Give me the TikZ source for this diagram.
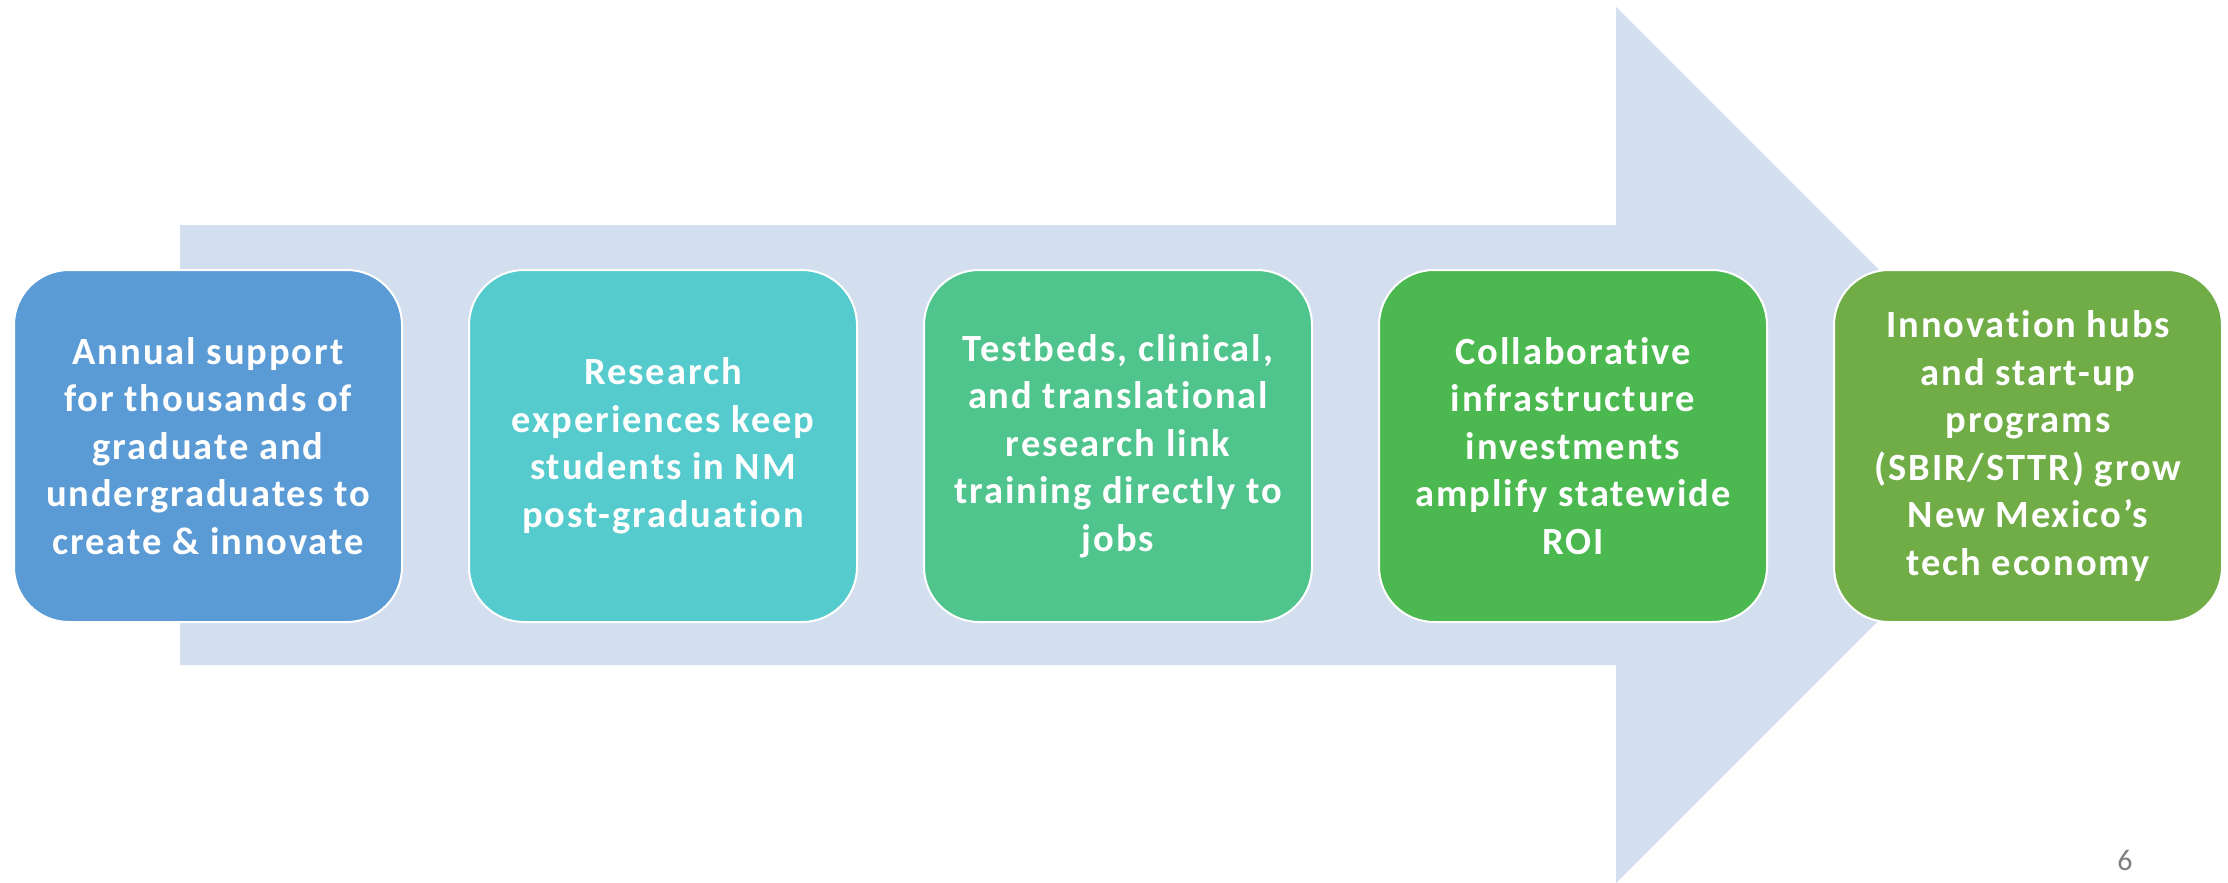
\documentclass[tikz,border=0pt]{standalone}
\usepackage{fontspec}
\setmainfont{Carlito}
\newfontfamily\stagefont[LetterSpace=5, Ligatures=NoCommon]{Carlito}
\usetikzlibrary{positioning}

\definecolor{arrowbg}{HTML}{D3DEEF}
\definecolor{stepA}{HTML}{5B9BD5}
\definecolor{stepB}{HTML}{55CBCD}
\definecolor{stepC}{HTML}{50C48D}
\definecolor{stepD}{HTML}{4BB94F}
\definecolor{stepE}{HTML}{70AD47}

\begin{document}
\begin{tikzpicture}[x=1pt, y=-1pt,
                    node distance=65pt,
                    line width=2pt,
                    ]
    \tikzstyle{stage}=[rectangle, rounded corners=55pt, draw=white, minimum width=388pt, minimum height=352pt, inner sep=0pt, align=center, text=white, font=\stagefont\fontsize{38.5}{47.5}\selectfont\bfseries]
    \tikzstyle{pagenum}=[text=gray, font=\fontsize{30}{34}\selectfont]

    \useasboundingbox[fill=white] (0,0) rectangle (2228,883);

    % big background arrow
    \fill[arrowbg] (180,225) -- (1616,225) -- (1616,7) -- (2054,445)
        -- (1616,883) -- (1616,665) -- (180,665) -- cycle;

    \node[stage, fill=stepA] (support) at (208,446)
        {Annual support\\for thousands of\\graduate and\\undergraduates to\\create \& innovate};
    \node[stage, fill=stepB, right=of support] (research)
        {Research\\experiences keep\\students in NM\\post-graduation};
    \node[stage, fill=stepC, right=of research] (testbeds)
        {Testbeds, clinical,\\and translational\\research link\\training directly to\\jobs};
    \node[stage, fill=stepD, right=of testbeds] (infra)
        {Collaborative\\infrastructure\\investments\\amplify statewide\\ROI};
    \node[stage, fill=stepE, right=of infra] (hubs)
        {Innovation hubs\\and start-up\\programs\\(SBIR/STTR) grow\\New Mexico’s\\tech economy};

    \node[pagenum] (page) at (2125,860) {6};
\end{tikzpicture}
\end{document}
